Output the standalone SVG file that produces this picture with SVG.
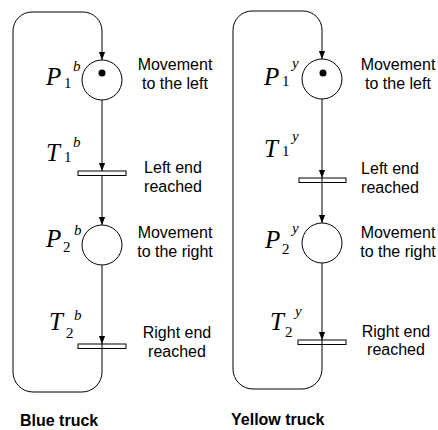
<svg xmlns="http://www.w3.org/2000/svg" width="438" height="430" viewBox="0 0 438 430">
<style>
.place{fill:#fff;stroke:#000;stroke-width:1}
.bar{fill:#fff;stroke:#000;stroke-width:1}
.tok{fill:#000}
.arc{fill:none;stroke:#000;stroke-width:1}
.lbl{font-family:"Liberation Sans",Arial,sans-serif;font-size:16px;fill:#000;text-anchor:middle}
.ttl{font-family:"Liberation Sans",Arial,sans-serif;font-size:16px;font-weight:bold;fill:#000}
.sym{font-family:"Liberation Serif","Times New Roman",serif;font-style:italic;font-size:25px;fill:#000}
.sub{font-family:"Liberation Serif","Times New Roman",serif;font-size:15px;fill:#000}
.sup{font-family:"Liberation Serif","Times New Roman",serif;font-style:italic;font-size:15px;fill:#000}
</style>
<defs>
<marker id="ah" markerUnits="userSpaceOnUse" markerWidth="8" markerHeight="10" refX="9" refY="3.5" orient="auto" viewBox="0 0 9 7">
<path d="M0,0 L9,3.5 L0,7 Z" fill="#000"/>
</marker>
</defs>
<g id="blue-P1"><circle class="place" cx="102" cy="80" r="20"/><circle class="tok" cx="102" cy="73" r="3.5"/>
<text class="sym" x="46" y="85">P</text><text class="sub" x="64" y="88">1</text><text class="sup" x="73" y="71">b</text>
<text class="lbl" x="175" y="70">Movement</text><text class="lbl" x="175" y="88.5">to the left</text></g>
<g id="blue-P2"><circle class="place" cx="102" cy="245" r="20"/>
<text class="sym" x="46" y="247">P</text><text class="sub" x="63" y="252">2</text><text class="sup" x="74" y="235">b</text>
<text class="lbl" x="175" y="238">Movement</text><text class="lbl" x="175" y="256.5">to the right</text></g>
<g id="blue-T2"><rect class="bar" x="78" y="344" width="48" height="4.5"/>
<text class="sym" x="49" y="330">T</text><text class="sub" x="66" y="338">2</text><text class="sup" x="74" y="320">b</text>
<text class="lbl" x="177" y="338">Right end</text><text class="lbl" x="177" y="356.5">reached</text></g>
<g id="yellow-P1"><circle class="place" cx="322" cy="79" r="20"/><circle class="tok" cx="323" cy="73" r="3.5"/>
<text class="sym" x="264" y="85">P</text><text class="sub" x="282" y="86">1</text><text class="sup" x="292" y="68">y</text>
<text class="lbl" x="398" y="70">Movement</text><text class="lbl" x="398" y="88.5">to the left</text></g>
<g id="yellow-T1"><rect class="bar" x="299" y="178" width="47" height="4.5"/>
<text class="sym" x="264" y="157">T</text><text class="sub" x="282" y="156">1</text><text class="sup" x="292" y="141">y</text>
<text class="lbl" x="390" y="174">Left end</text><text class="lbl" x="390" y="193">reached</text></g>
<g id="yellow-P2"><circle class="place" cx="322" cy="243" r="20"/>
<text class="sym" x="265" y="248">P</text><text class="sub" x="282" y="254">2</text><text class="sup" x="292" y="233">y</text>
<text class="lbl" x="398" y="238">Movement</text><text class="lbl" x="398" y="256.5">to the right</text></g>
<g id="yellow-T2"><rect class="bar" x="298" y="340" width="48" height="4.5"/>
<text class="sym" x="270" y="330">T</text><text class="sub" x="285" y="337">2</text><text class="sup" x="295" y="316">y</text>
<text class="lbl" x="396" y="337">Right end</text><text class="lbl" x="396" y="355">reached</text></g>
<g id="connectors">
<path class="arc" d="M102,100 V171" marker-end="url(#ah)"/>
<path class="arc" d="M102,175.5 V225" marker-end="url(#ah)"/>
<path class="arc" d="M102,265 V344" marker-end="url(#ah)"/>
<path class="arc" d="M102,344 V372 A20,20 0 0 1 82,392 H33 A20,20 0 0 1 13,372 V31 A19,19 0 0 1 32,12 H83 A19,19 0 0 1 102,31 V60" marker-end="url(#ah)"/>
<path class="arc" d="M322,99 V178" marker-end="url(#ah)"/>
<path class="arc" d="M322,178 V223" marker-end="url(#ah)"/>
<path class="arc" d="M322,263 V340" marker-end="url(#ah)"/>
<path class="arc" d="M322,340 V369 A20,20 0 0 1 302,389 H253 A20,20 0 0 1 233,369 V30 A19,19 0 0 1 252,11 H303 A19,19 0 0 1 322,30 V59" marker-end="url(#ah)"/>
</g>
<g id="blue-T1"><rect class="bar" x="78" y="171" width="48" height="4.5"/>
<text class="sym" x="46" y="161">T</text><text class="sub" x="64" y="162">1</text><text class="sup" x="73" y="147">b</text>
<text class="lbl" x="173" y="173">Left end</text><text class="lbl" x="173" y="192">reached</text></g>
<g id="titles"><text class="ttl" x="20" y="426">Blue truck</text><text class="ttl" x="231" y="425">Yellow truck</text></g>
</svg>
